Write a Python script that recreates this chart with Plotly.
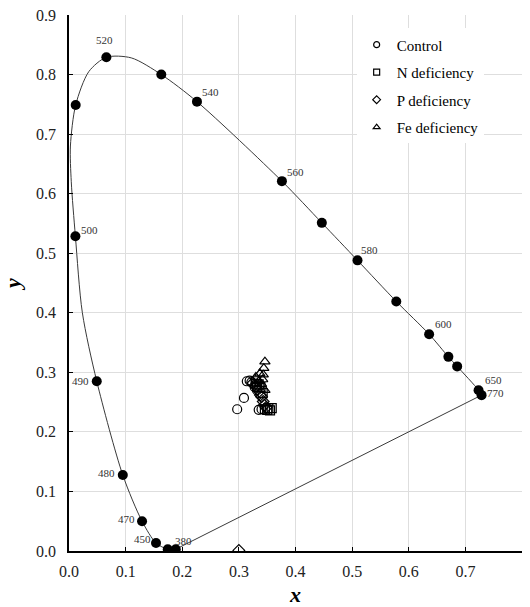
import plotly.graph_objects as go

# Spectral locus: marked wavelength points (chromaticity x, y)
locus_wl = [380, None, 450, 470, 480, 490, 500, 510, 520, 530, 540, 560, 570, 580, 590, 600, 610, 620, 650, 770]
locus_x = [0.1885, 0.1744, 0.1537, 0.129, 0.095, 0.049, 0.0113, 0.0118, 0.066, 0.163, 0.226,
           0.376, 0.4465, 0.5095, 0.578, 0.636, 0.670, 0.6855, 0.7233, 0.7286]
locus_y = [0.003, 0.003, 0.0134, 0.050, 0.1275, 0.285, 0.5285, 0.749, 0.829, 0.800, 0.7545,
           0.621, 0.551, 0.488, 0.419, 0.364, 0.326, 0.310, 0.270, 0.2617]

# Path of the smooth locus curve (marked points plus in-between vertices)
curve_x = [0.1885, 0.1744, 0.1537, 0.129, 0.095, 0.049, 0.0236, 0.0113, 0.004, 0.0025, 0.0118,
           0.035, 0.066, 0.11, 0.163, 0.226, 0.376, 0.4465, 0.5095, 0.578, 0.636, 0.670,
           0.6855, 0.7233, 0.7286]
curve_y = [0.003, 0.003, 0.0134, 0.050, 0.1275, 0.285, 0.40, 0.5285, 0.62, 0.68, 0.749,
           0.805, 0.829, 0.828, 0.800, 0.7545, 0.621, 0.551, 0.488, 0.419, 0.364, 0.326,
           0.310, 0.270, 0.2617]

# Line of purples closing the gamut
purple_x = [0.7286, 0.1885]
purple_y = [0.2617, 0.003]

# Sample chromaticities per treatment
control_x = [0.297, 0.309, 0.314, 0.319, 0.322, 0.328, 0.335, 0.340, 0.332]
control_y = [0.238, 0.257, 0.285, 0.286, 0.283, 0.275, 0.237, 0.238, 0.270]
n_def_x = [0.330, 0.335, 0.338, 0.342, 0.346, 0.350, 0.355, 0.358, 0.352, 0.332]
n_def_y = [0.285, 0.280, 0.275, 0.265, 0.238, 0.237, 0.236, 0.240, 0.240, 0.278]
p_def_x = [0.300, 0.325, 0.330, 0.336, 0.340, 0.343, 0.345, 0.348, 0.338]
p_def_y = [0.001, 0.282, 0.276, 0.268, 0.259, 0.251, 0.245, 0.241, 0.262]
fe_def_x = [0.346, 0.344, 0.343, 0.337, 0.330, 0.346, 0.335, 0.340, 0.342]
fe_def_y = [0.318, 0.307, 0.296, 0.298, 0.292, 0.270, 0.285, 0.280, 0.288]

x_ticks = [0.0, 0.1, 0.2, 0.3, 0.4, 0.5, 0.6, 0.7, 0.8]
y_ticks = [0.0, 0.1, 0.2, 0.3, 0.4, 0.5, 0.6, 0.7, 0.8, 0.9]

SERIF = "Times New Roman, Liberation Serif, DejaVu Serif, serif"

# Label offsets (pixels) for each wavelength label
label_offsets = {
    380: (8, 8), 450: (-14, 4), 470: (-16, 2), 480: (-16, 2), 490: (-16, 0),
    500: (14, 6), 520: (-2, 17), 540: (14, 10), 560: (14, 9), 580: (12, 10),
    600: (14, 10), 650: (15, 10), 770: (14, 2),
}

fig = go.Figure()

fig.add_trace(go.Scatter(x=curve_x, y=curve_y, mode="lines",
                         line=dict(color="#3a3a3a", width=1, shape="spline", smoothing=0.8),
                         showlegend=False, hoverinfo="skip"))
fig.add_trace(go.Scatter(x=purple_x, y=purple_y, mode="lines",
                         line=dict(color="#3a3a3a", width=1),
                         showlegend=False, hoverinfo="skip"))
fig.add_trace(go.Scatter(x=locus_x, y=locus_y, mode="markers",
                         marker=dict(color="black", size=10, symbol="circle"),
                         showlegend=False))

series = [
    ("Control", control_x, control_y, "circle-open"),
    ("N deficiency", n_def_x, n_def_y, "square-open"),
    ("P deficiency", p_def_x, p_def_y, "diamond-open"),
    ("Fe deficiency", fe_def_x, fe_def_y, "triangle-up-open"),
]
for name, xs, ys, sym in series:
    fig.add_trace(go.Scatter(x=xs, y=ys, mode="markers", name=name, legendgroup=name,
                             showlegend=False,
                             marker=dict(symbol=sym, size=9, color="black",
                                         line=dict(color="black", width=1.2))))
    # smaller symbol for the legend entry
    fig.add_trace(go.Scatter(x=[None], y=[None], mode="markers", name=name, legendgroup=name,
                             marker=dict(symbol=sym, size=6, color="black",
                                         line=dict(color="black", width=1.2))))

for wl, xv, yv in zip(locus_wl, locus_x, locus_y):
    if wl is None or wl not in label_offsets:
        continue
    dx, dy = label_offsets[wl]
    fig.add_annotation(x=xv, y=yv, text=str(wl), showarrow=False,
                       xshift=dx, yshift=dy,
                       font=dict(family=SERIF, size=11, color="#333333"))

axis_common = dict(showline=True, linecolor="black", linewidth=1.5,
                   ticks="inside", ticklen=4, tickcolor="black",
                   showgrid=True, gridcolor="#dedede", gridwidth=1,
                   zeroline=False, mirror=False, tickformat=".1f",
                   automargin=False,
                   tickfont=dict(family=SERIF, size=16, color="#222222"))

fig.update_xaxes(range=[0, 0.8], tickvals=x_ticks, **axis_common,
                 ticklabelstandoff=5,
                 title=dict(text="<b><i>x</i></b>", standoff=12,
                            font=dict(family=SERIF, size=22, color="black")))
fig.update_yaxes(range=[0, 0.9], tickvals=y_ticks, **axis_common,
                 ticklabelstandoff=8,
                 title=dict(text="<b><i>y</i></b>", standoff=10,
                            font=dict(family=SERIF, size=22, color="black")))

fig.update_layout(
    width=530, height=607,
    margin=dict(l=69, r=8, t=15, b=56),
    paper_bgcolor="white", plot_bgcolor="white",
    legend=dict(x=0.635, y=0.975, xanchor="left", yanchor="top",
                bgcolor="white", borderwidth=0,
                font=dict(family=SERIF, size=15, color="black"),
                tracegroupgap=5, itemwidth=30),
)

fig.write_html("out.html")
